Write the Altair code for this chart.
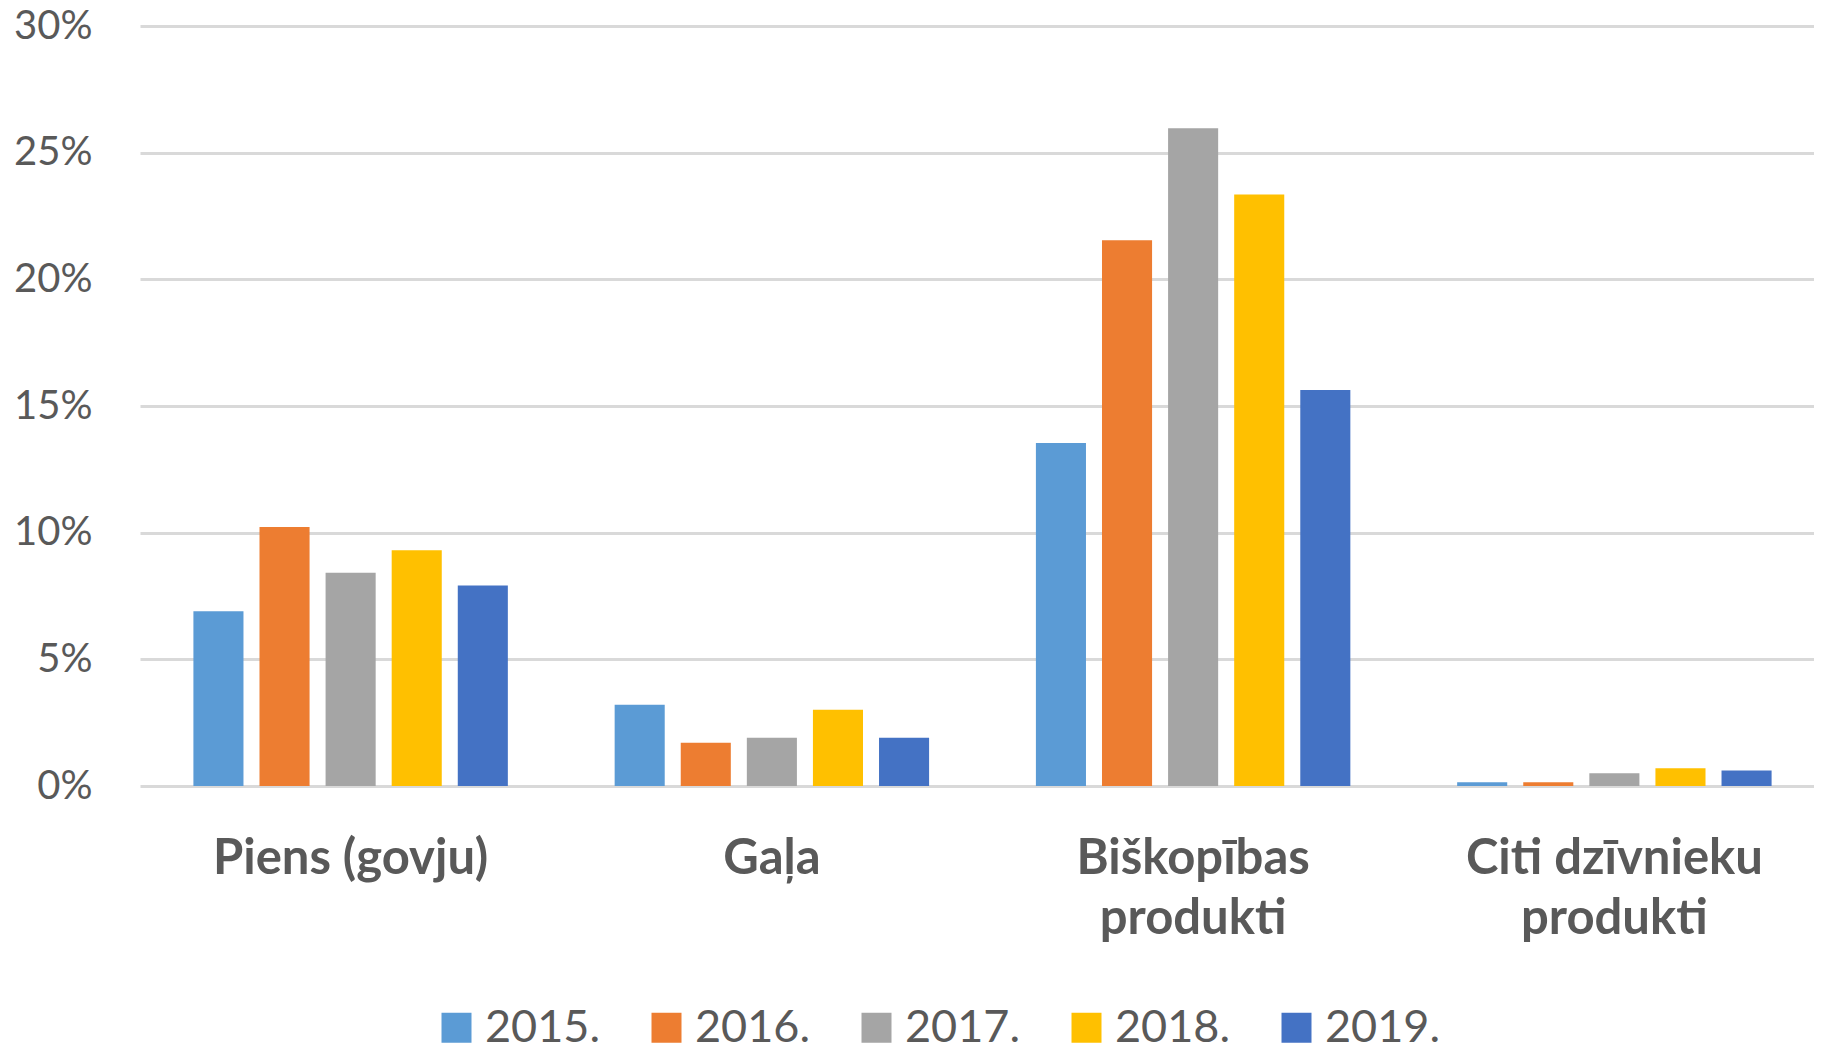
import altair as alt
import pandas as pd

categories = ["Piens (govju)", "Gaļa", "Biškopības produkti", "Citi dzīvnieku produkti"]
years = ["2015.", "2016.", "2017.", "2018.", "2019."]
colors = ["#5B9BD5", "#ED7D31", "#A5A5A5", "#FFC000", "#4472C4"]

v2015 = [0.0690, 0.0321, 0.1354, 0.0015]
v2016 = [0.1022, 0.0171, 0.2154, 0.0015]
v2017 = [0.0842, 0.0190, 0.2596, 0.0050]
v2018 = [0.0931, 0.0301, 0.2335, 0.0070]
v2019 = [0.0791, 0.0190, 0.1563, 0.0061]

series = [v2015, v2016, v2017, v2018, v2019]
rows = []
for y, vals in zip(years, series):
    for c, v in zip(categories, vals):
        rows.append({"category": c, "year": y, "value": v})
df = pd.DataFrame(rows)

FONT = "Lato"
TXT = "#595959"

label_expr = ("indexof(datum.label, ' produkti') > 0 ? "
              "[replace(datum.label, ' produkti', ''), 'produkti'] : datum.label")

chart = alt.Chart(df).mark_bar().encode(
    x=alt.X("category:N", sort=categories, title=None,
            scale=alt.Scale(paddingInner=0, paddingOuter=0, range=[2, 1687]),
            axis=alt.Axis(labelAngle=0, labelFont=FONT, labelFontSize=49,
                          labelFontWeight="bold", labelColor=TXT,
                          labelPadding=48, labelLineHeight=60, labelLimit=0,
                          labelExpr=label_expr, domain=False, ticks=False,
                          grid=False)),
    xOffset=alt.XOffset("year:N", sort=years,
                        scale=alt.Scale(paddingInner=0.2424, paddingOuter=0.808)),
    y=alt.Y("value:Q", title=None,
            scale=alt.Scale(domain=[0, 0.30], nice=False),
            axis=alt.Axis(values=[0, 0.05, 0.10, 0.15, 0.20, 0.25, 0.30],
                          format=".0%", labelFont=FONT, labelFontSize=40,
                          labelColor=TXT, labelPadding=46, domain=False,
                          ticks=False, gridColor="#D9D9D9", gridWidth=3)),
    color=alt.Color("year:N", sort=years,
                    scale=alt.Scale(domain=years, range=colors),
                    legend=alt.Legend(title=None, orient="none", direction="horizontal",
                                      columns=5, legendX=296, legendY=979,
                                      symbolType="square", symbolSize=900,
                                      symbolStrokeWidth=0, labelLimit=0,
                                      labelFont=FONT, labelFontSize=45,
                                      labelColor=TXT, labelOffset=6,
                                      columnPadding=43)),
).properties(
    width=1676, height=760,
    autosize=alt.AutoSizeParams(type="none"),
    padding={"left": 130, "top": 18, "right": 0, "bottom": 257},
).configure_view(stroke=None)

chart.save("out.html", embed_options={"renderer": "svg", "actions": False})
